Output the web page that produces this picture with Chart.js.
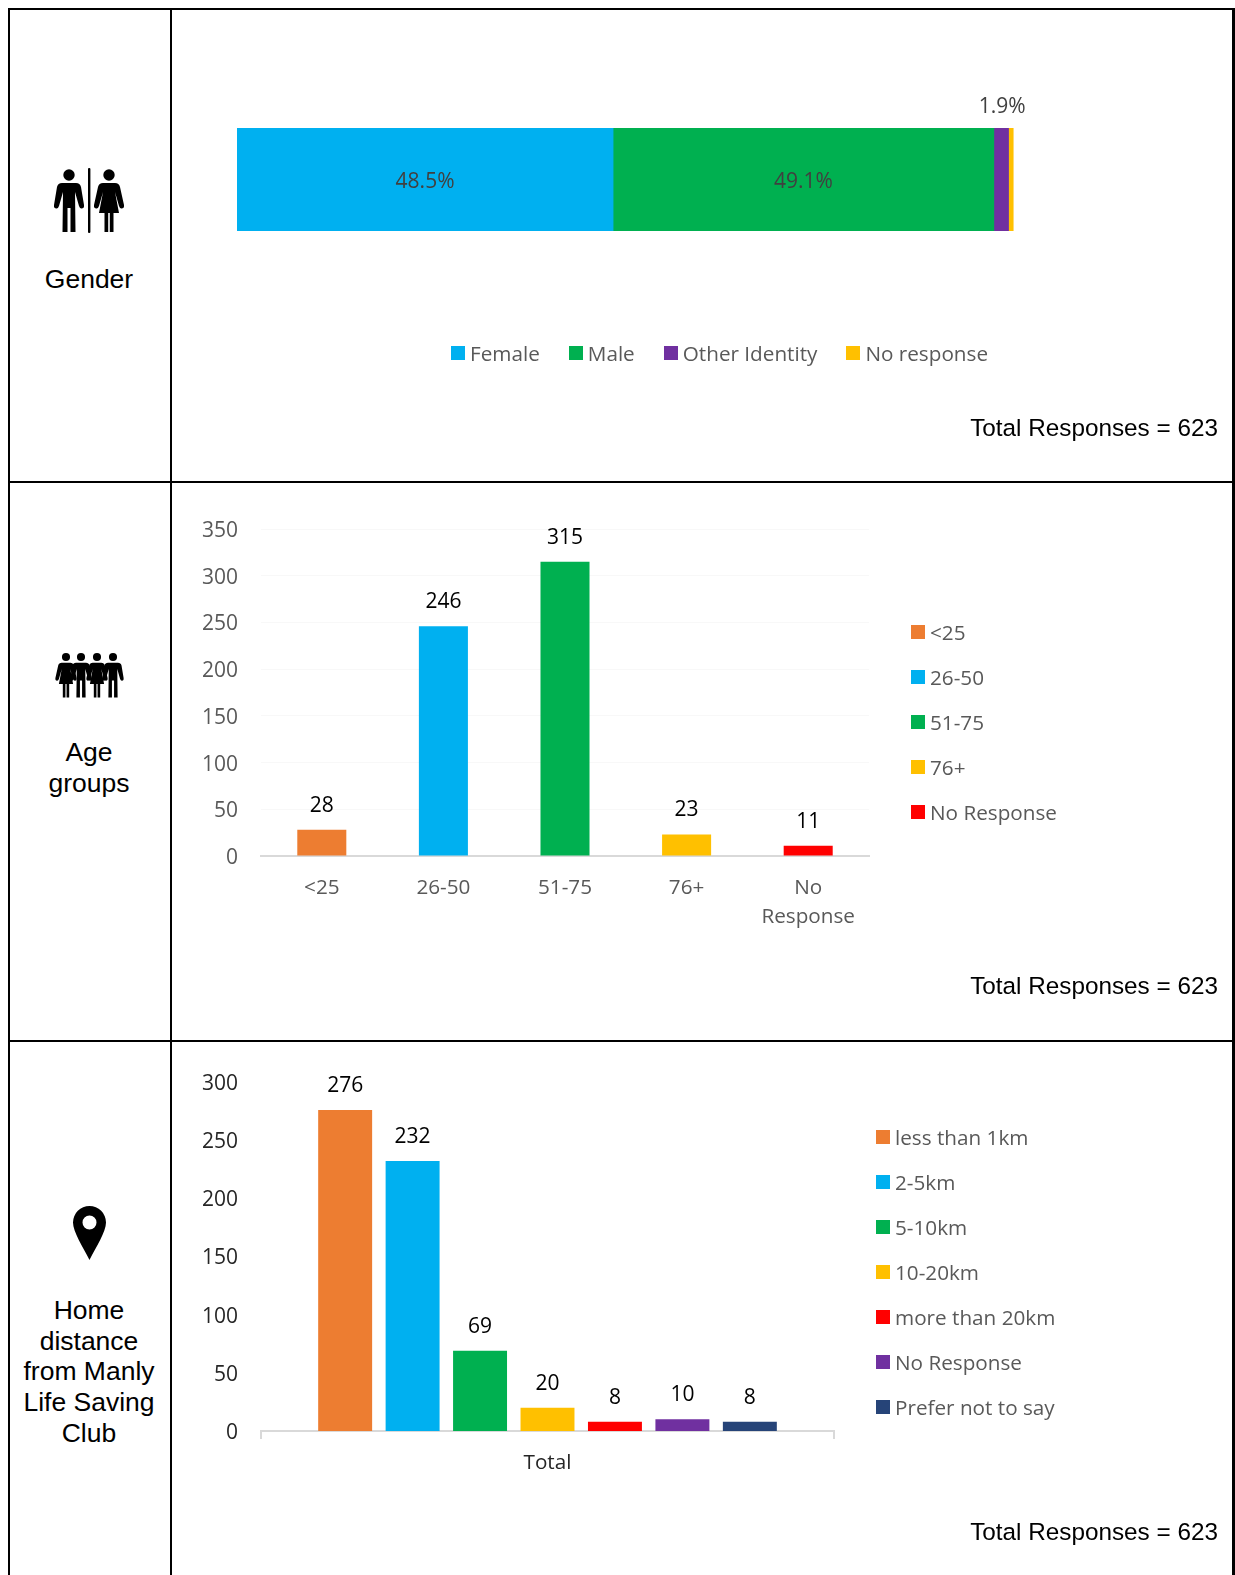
<!DOCTYPE html>
<html lang="en">
<head>
<meta charset="utf-8">
<title>Survey respondents</title>
<script src="https://cdn.jsdelivr.net/npm/chart.js@4"></script>
<style>
    html, body { margin: 0; padding: 0; background: #fff; }
    #page { position: relative; width: 1235px; height: 1575px; overflow: hidden; }
    .rule { position: absolute; background: #000; }
    canvas { position: absolute; }
    .side { position: absolute; left: 9px; width: 160px; text-align: center; color: #000;
            font: 26.5px/30.7px "Liberation Sans", Arial, sans-serif; }
    .total { position: absolute; right: 17px; color: #000; white-space: nowrap;
             font: 24.3px/30px "Liberation Sans", Arial, sans-serif; }
    .legend { position: absolute; color: #595959; font: 20.7px/24px "Open Sans", sans-serif; white-space: nowrap; }
    .legend span { display: flex; align-items: center; }
    .legend i { display: block; width: 14px; height: 14px; margin-right: 5px; flex: none; }
    .legend-row { display: flex; gap: 29px; }
    .legend-col { display: flex; flex-direction: column; gap: 21px; }
    svg { position: absolute; left: 0; top: 0; }
</style>
</head>
<body>
<div id="page">
    <svg width="180" height="1575" viewBox="0 0 180 1575">
        <defs>
            <path id="man" d="M-7,8 L7,8 Q11,8 12,12 L15,30 Q15.5,33 13,33.5 Q11,34 10,31 L6,17 L6.5,57 L1.5,57 L1.5,33 L-1.5,33 L-1.5,57 L-6.5,57 L-6,17 L-10,31 Q-11,34 -13,33.5 Q-15.5,33 -15,30 L-12,12 Q-11,8 -7,8 Z M5.7,0 A5.7,5.7 0 1 1 -5.7,0 A5.7,5.7 0 1 1 5.7,0 Z"/>
            <path id="woman" d="M-6,8 L6,8 Q10,8 11,12 L15,30 Q15.5,33 13,33.5 Q11,34 10,31 L6,17 L10,38 L4.5,38 L4.5,57 L0.8,57 L0.8,38 L-0.8,38 L-0.8,57 L-4.5,57 L-4.5,38 L-10,38 L-6,17 L-10,31 Q-11,34 -13,33.5 Q-15.5,33 -15,30 L-11,12 Q-10,8 -6,8 Z M5.7,0 A5.7,5.7 0 1 1 -5.7,0 A5.7,5.7 0 1 1 5.7,0 Z"/>
        </defs>
        <use href="#man" transform="translate(69,175)"/>
        <rect x="88" y="168" width="2.4" height="65" rx="1"/>
        <use href="#woman" transform="translate(109,175)"/>
        <use href="#woman" transform="translate(66,657) scale(0.71)"/>
        <use href="#man" transform="translate(81,657) scale(0.71)"/>
        <use href="#woman" transform="translate(97,657) scale(0.71)"/>
        <use href="#man" transform="translate(113,657) scale(0.71)"/>
        <path fill-rule="evenodd" d="M89.5,1206 A16.5,16.5 0 0 1 106,1222.5 C106,1232 96,1247 89.5,1260 C83,1247 73,1232 73,1222.5 A16.5,16.5 0 0 1 89.5,1206 Z M96.5,1222.5 A7,7 0 1 0 82.5,1222.5 A7,7 0 1 0 96.5,1222.5 Z"/>
    </svg>

    <div class="rule" style="left:8px;top:8px;width:1227px;height:2px"></div>
    <div class="rule" style="left:8px;top:481px;width:1227px;height:2px"></div>
    <div class="rule" style="left:8px;top:1040px;width:1227px;height:2px"></div>
    <div class="rule" style="left:8px;top:8px;width:2px;height:1567px"></div>
    <div class="rule" style="left:170px;top:8px;width:2px;height:1567px"></div>
    <div class="rule" style="left:1232px;top:8px;width:3px;height:1567px"></div>

    <div class="side" style="top:264px">Gender</div>
    <div class="side" style="top:737px">Age<br>groups</div>
    <div class="side" style="top:1295px">Home<br>distance<br>from Manly<br>Life Saving<br>Club</div>

    <canvas id="gender-chart" style="left:172px;top:10px" width="1060" height="471"></canvas>
    <canvas id="age-chart" style="left:172px;top:483px" width="1060" height="557"></canvas>
    <canvas id="distance-chart" style="left:172px;top:1042px" width="1060" height="533"></canvas>

    <div class="legend legend-row" id="gender-legend" style="left:451px;top:341px"></div>
    <div class="legend legend-col" id="age-legend" style="left:911px;top:620px"></div>
    <div class="legend legend-col" id="distance-legend" style="left:876px;top:1125px"></div>

    <div class="total" style="top:413px">Total Responses = 623</div>
    <div class="total" style="top:971px">Total Responses = 623</div>
    <div class="total" style="top:1517px">Total Responses = 623</div>
</div>

<script>
// Gender split, percent of responses
const genderCategories = ['Female', 'Male', 'Other Identity', 'No response'];
const genderValues = [48.5, 49.1, 1.9, 0.6];
const genderLabels = ['48.5%', '49.1%', '1.9%', ''];
const genderColors = ['#00B0F0', '#00B050', '#7030A0', '#FFC000'];

// Age groups, counts
const ageCategories = ['<25', '26-50', '51-75', '76+', 'No Response'];
const ageTickLabels = ['<25', '26-50', '51-75', '76+', ['No', 'Response']];
const ageValues = [28, 246, 315, 23, 11];
const ageColors = ['#ED7D31', '#00B0F0', '#00B050', '#FFC000', '#FF0000'];

// Home distance, counts
const distanceCategories = ['less than 1km', '2-5km', '5-10km', '10-20km', 'more than 20km', 'No Response', 'Prefer not to say'];
const distanceValues = [276, 232, 69, 20, 8, 10, 8];
const distanceColors = ['#ED7D31', '#00B0F0', '#00B050', '#FFC000', '#FF0000', '#7030A0', '#264478'];
const distanceAxisLabels = ['Total'];

const labelFont = '"Open Sans", sans-serif';
const axisLine = '#D9D9D9';

// Writes the value (or given text) next to each bar
const barLabels = {
    id: 'barLabels',
    afterDatasetsDraw(chart) {
        const ctx = chart.ctx;
        ctx.save();
        ctx.textAlign = 'center';
        ctx.textBaseline = 'middle';
        ctx.font = '21px ' + labelFont;
        chart.data.datasets.forEach((dataset, d) => {
            chart.getDatasetMeta(d).data.forEach((bar, i) => {
                const text = dataset.labelText ? dataset.labelText[i] : String(dataset.data[i]);
                ctx.fillStyle = dataset.labelColor || '#000';
                if (dataset.labelInside) {
                    ctx.fillText(text, (bar.x + bar.base) / 2, bar.y + 3);
                } else if (dataset.labelAbove) {
                    ctx.fillText(text, bar.x - bar.width / 2 + 1, bar.y - bar.height / 2 - 21);
                } else {
                    ctx.fillText(text, bar.x, bar.y - 24);
                }
            });
        });
        ctx.restore();
    }
};

function fillLegend(id, names, colors) {
    const box = document.getElementById(id);
    names.forEach((name, i) => {
        const item = document.createElement('span');
        const swatch = document.createElement('i');
        swatch.style.background = colors[i];
        item.appendChild(swatch);
        item.appendChild(document.createTextNode(name));
        box.appendChild(item);
    });
}

// Y axis shared by the two column charts, fixed width so the plot lands where it should
function countAxis(max, width, color, gridColor, labelOffset) {
    return {
        min: 0,
        max: max,
        afterFit(scale) { scale.width = width; },
        ticks: { stepSize: 50, padding: 23, labelOffset: labelOffset, color: color, font: { family: labelFont, size: 21 } },
        grid: { display: !!gridColor, color: gridColor, drawTicks: false },
        border: { display: false }
    };
}

function initGenderChart() {
    new Chart(document.getElementById('gender-chart'), {
        type: 'bar',
        data: {
            labels: ['Gender'],
            datasets: genderCategories.map((name, i) => ({
                label: name,
                data: [genderValues[i]],
                backgroundColor: genderColors[i],
                barPercentage: 1,
                categoryPercentage: 1,
                labelText: [genderLabels[i]],
                labelColor: '#404040',
                labelInside: i < 2,
                labelAbove: i >= 2
            }))
        },
        options: {
            indexAxis: 'y',
            responsive: false,
            animation: false,
            layout: { padding: { left: 65, right: 218, top: 118, bottom: 250 } },
            scales: {
                x: { stacked: true, display: false, min: 0, max: 100.2 },
                y: { stacked: true, display: false }
            },
            plugins: { legend: { display: false }, tooltip: { enabled: false } }
        },
        plugins: [barLabels]
    });
}

function initAgeChart() {
    new Chart(document.getElementById('age-chart'), {
        type: 'bar',
        data: {
            labels: ageTickLabels,
            datasets: [{
                label: 'Age groups',
                data: ageValues,
                backgroundColor: ageColors,
                barPercentage: 0.8,
                categoryPercentage: 0.504
            }]
        },
        options: {
            responsive: false,
            animation: false,
            layout: { padding: { left: 0, right: 363, top: 46, bottom: 0 } },
            scales: {
                x: {
                    afterFit(scale) { scale.height = 184; },
                    ticks: { padding: 10, color: '#595959', maxRotation: 0, font: { family: labelFont, size: 20.7, lineHeight: 1.4 } },
                    grid: { display: false },
                    border: { color: axisLine, width: 2 }
                },
                y: countAxis(350, 89, '#595959', '#F8F8F8', 2)
            },
            plugins: { legend: { display: false }, tooltip: { enabled: false } }
        },
        plugins: [barLabels]
    });
}

function initDistanceChart() {
    new Chart(document.getElementById('distance-chart'), {
        type: 'bar',
        data: {
            labels: distanceAxisLabels,
            datasets: distanceCategories.map((name, i) => ({
                label: name,
                data: [distanceValues[i]],
                backgroundColor: distanceColors[i],
                barPercentage: 0.8,
                categoryPercentage: 0.824
            }))
        },
        options: {
            responsive: false,
            animation: false,
            layout: { padding: { left: 0, right: 398, top: 40, bottom: 0 } },
            scales: {
                x: {
                    afterFit(scale) { scale.height = 144; },
                    ticks: { padding: 12, color: '#262626', maxRotation: 0, font: { family: labelFont, size: 20.7 } },
                    grid: { offset: true, drawOnChartArea: false, color: axisLine, lineWidth: 2, tickLength: 8 },
                    border: { color: axisLine, width: 2 }
                },
                y: countAxis(300, 89, '#262626', null, 2)
            },
            plugins: { legend: { display: false }, tooltip: { enabled: false } }
        },
        plugins: [barLabels]
    });
}

fillLegend('gender-legend', genderCategories, genderColors);
fillLegend('age-legend', ageCategories, ageColors);
fillLegend('distance-legend', distanceCategories, distanceColors);
initGenderChart();
initAgeChart();
initDistanceChart();
</script>
</body>
</html>
